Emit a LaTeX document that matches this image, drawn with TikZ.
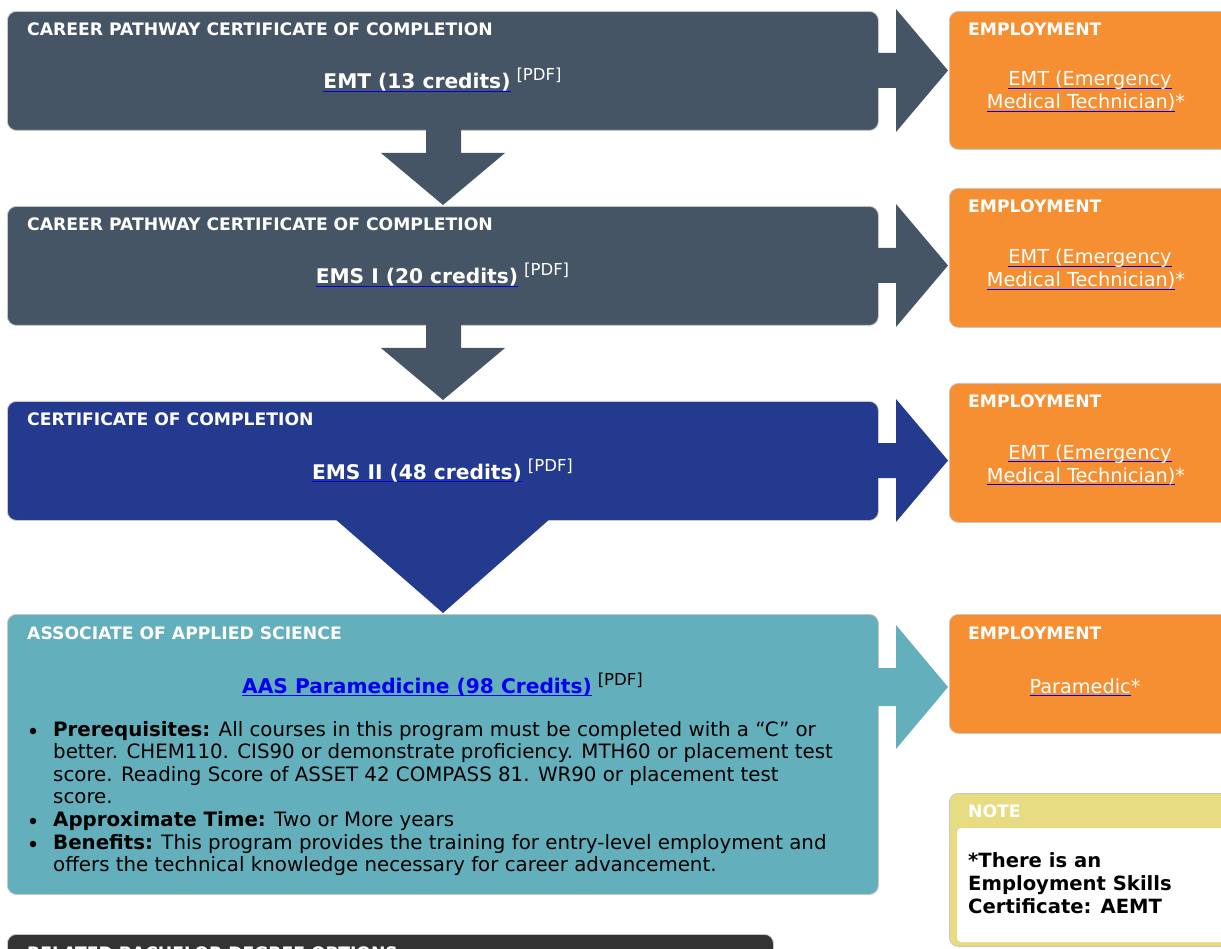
\documentclass[tikz,border=0pt]{standalone}
\usepackage{fontspec}
\setmainfont{DejaVu Sans}
\usetikzlibrary{calc}
\definecolor{cslate}{HTML}{465566}
\definecolor{cnavy}{HTML}{233A8F}
\definecolor{cteal}{HTML}{63AFBC}
\definecolor{corange}{HTML}{F58F31}
\definecolor{cyellow}{HTML}{E8DC83}
\definecolor{cdark}{HTML}{333333}
\definecolor{ulblue}{HTML}{0000EE}
\newlength\ullen
\newcommand\lnk[1]{\settowidth\ullen{#1}\rlap{\color{ulblue}\rule[-3.4pt]{\ullen}{1.4pt}}#1}
\newcommand\ttlfont{\bfseries\fontsize{17.2}{20}\selectfont}
\newcommand\lkfont{\bfseries\fontsize{20.2}{24}\selectfont}
\newcommand\pdffont{\fontsize{16.5}{18}\selectfont}
\newcommand\empfont{\fontsize{19.3}{23}\selectfont}
\newcommand\bodyfont{\fontsize{19.8}{23}\selectfont}
\begin{document}
\begin{tikzpicture}[x=1pt,y=-1pt,
  card/.style={rounded corners=9pt, draw=black!22, line width=0.8pt, inner sep=0pt, anchor=north west},
  ttl/.style={anchor=base west, inner sep=0pt, text=white, font=\ttlfont},
  lk/.style={anchor=base, inner sep=0pt, text=white},
  emp/.style={anchor=base, inner sep=0pt, text=white, font=\empfont},
  body/.style={anchor=base west, inner sep=0pt, text=black, font=\bodyfont},
  dot/.style={circle, fill=black, inner sep=0pt, minimum size=6.5pt},
  note/.style={anchor=base west, inner sep=0pt, text=black, font=\bfseries\fontsize{19.6}{23}\selectfont}]
\useasboundingbox (0,0) rectangle (1221,949);
\clip (0,0) rectangle (1221,949);
\fill[white] (0,0) rectangle (1221,949);

% main cards
\node[card, fill=cslate, minimum width=871pt, minimum height=119pt] (c1) at (7,11) {};
\node[card, fill=cslate, minimum width=871pt, minimum height=119pt] (c2) at (7,206) {};
\node[card, fill=cnavy, minimum width=871pt, minimum height=119pt] (c3) at (7,401) {};
\node[card, fill=cteal, minimum width=871pt, minimum height=280pt] (c4) at (7,614) {};
\node[card, fill=cdark, minimum width=766pt, minimum height=80pt] (c5) at (7,934) {};

% employment cards
\node[card, fill=corange, minimum width=290pt, minimum height=138pt] (e1) at (949,11) {};
\node[card, fill=corange, minimum width=290pt, minimum height=139pt] (e2) at (949,188) {};
\node[card, fill=corange, minimum width=290pt, minimum height=139pt] (e3) at (949,383) {};
\node[card, fill=corange, minimum width=290pt, minimum height=119pt] (e4) at (949,614) {};

% note card
\node[card, fill=cyellow, minimum width=290pt, minimum height=153pt] (nt) at (949,793) {};
\fill[white, rounded corners=4pt] (957,828) rectangle (1240,942);

% down arrows
\fill[cslate] (426,125) -- (461,125) -- (461,153) -- (505,153) -- (443,205) -- (381,153) -- (426,153) -- cycle;
\fill[cslate] (426,320) -- (461,320) -- (461,348) -- (505,348) -- (443,400) -- (381,348) -- (426,348) -- cycle;
\fill[cnavy] (334,518) -- (551,518) -- (443,613) -- cycle;

% right arrows
\fill[cslate] (870,53) -- (896,53) -- (896,9) -- (948,70.5) -- (896,132) -- (896,88) -- (870,88) -- cycle;
\fill[cslate] (870,248) -- (896,248) -- (896,204) -- (948,265.5) -- (896,327) -- (896,283) -- (870,283) -- cycle;
\fill[cnavy] (870,443) -- (896,443) -- (896,399) -- (948,460.5) -- (896,522) -- (896,478) -- (870,478) -- cycle;
\fill[cteal] (870,668) -- (896,668) -- (896,625) -- (948,687) -- (896,749) -- (896,706) -- (870,706) -- cycle;

% titles
\node[ttl] (t1) at (27,36) {CAREER PATHWAY CERTIFICATE OF COMPLETION};
\node[ttl] (t2) at (27,231) {CAREER PATHWAY CERTIFICATE OF COMPLETION};
\node[ttl] (t3) at (27,426) {CERTIFICATE OF COMPLETION};
\node[ttl] (t4) at (27,639) {ASSOCIATE OF APPLIED SCIENCE};
\node[ttl] (t5) at (27,959) {RELATED BACHELOR DEGREE OPTIONS};
\node[ttl] (te1) at (968,36) {EMPLOYMENT};
\node[ttl] (te2) at (968,213) {EMPLOYMENT};
\node[ttl] (te3) at (968,408) {EMPLOYMENT};
\node[ttl] (te4) at (968,639) {EMPLOYMENT};
\node[ttl] (tn) at (968,817) {NOTE};

% program links
\node[lk] (l1) at (442.5,89) {\lkfont\lnk{EMT (13 credits)}\hspace{6pt}\raisebox{8pt}{\pdffont\mdseries [PDF]}};
\node[lk] (l2) at (442.5,284) {\lkfont\lnk{EMS I (20 credits)}\hspace{6pt}\raisebox{8pt}{\pdffont\mdseries [PDF]}};
\node[lk] (l3) at (442.5,479) {\lkfont\lnk{EMS II (48 credits)}\hspace{6pt}\raisebox{8pt}{\pdffont\mdseries [PDF]}};
\node[lk, text=ulblue] (l4) at (442.5,693) {\lkfont\lnk{AAS Paramedicine (98 Credits)}\hspace{6pt}\raisebox{8pt}{\pdffont\mdseries\color{black}[PDF]}};

% employment links
\node[emp] (m1a) at (1090,86) {\lnk{EMT (Emergency}};
\node[emp] (m1b) at (1086,109) {\lnk{Medical Technician)}*};
\node[emp] (m2a) at (1090,264) {\lnk{EMT (Emergency}};
\node[emp] (m2b) at (1086,287) {\lnk{Medical Technician)}*};
\node[emp] (m3a) at (1090,459) {\lnk{EMT (Emergency}};
\node[emp] (m3b) at (1086,482) {\lnk{Medical Technician)}*};
\node[emp] (m4) at (1085,693) {\lnk{Paramedic}*};

% bullets
\node[dot] (d1) at (33,731) {};
\node[dot] (d2) at (33,821) {};
\node[dot] (d3) at (33,844) {};
\node[body] (b1) at (53,736) {\textbf{Prerequisites:} All courses in this program must be completed with a “C” or};
\node[body] (b2) at (53,758) {better. CHEM110. CIS90 or demonstrate proficiency. MTH60 or placement test};
\node[body] (b3) at (53,781) {score. Reading Score of ASSET 42 COMPASS 81. WR90 or placement test};
\node[body] (b4) at (53,803) {score.};
\node[body] (b5) at (53,826) {\textbf{Approximate Time:} Two or More years};
\node[body] (b6) at (53,849) {\textbf{Benefits:} This program provides the training for entry-level employment and};
\node[body] (b7) at (53,871) {offers the technical knowledge necessary for career advancement.};

% note text
\node[note] (n1) at (968,867) {*There is an};
\node[note] (n2) at (968,890) {Employment Skills};
\node[note] (n3) at (968,913) {Certificate: AEMT};
\end{tikzpicture}
\end{document}
